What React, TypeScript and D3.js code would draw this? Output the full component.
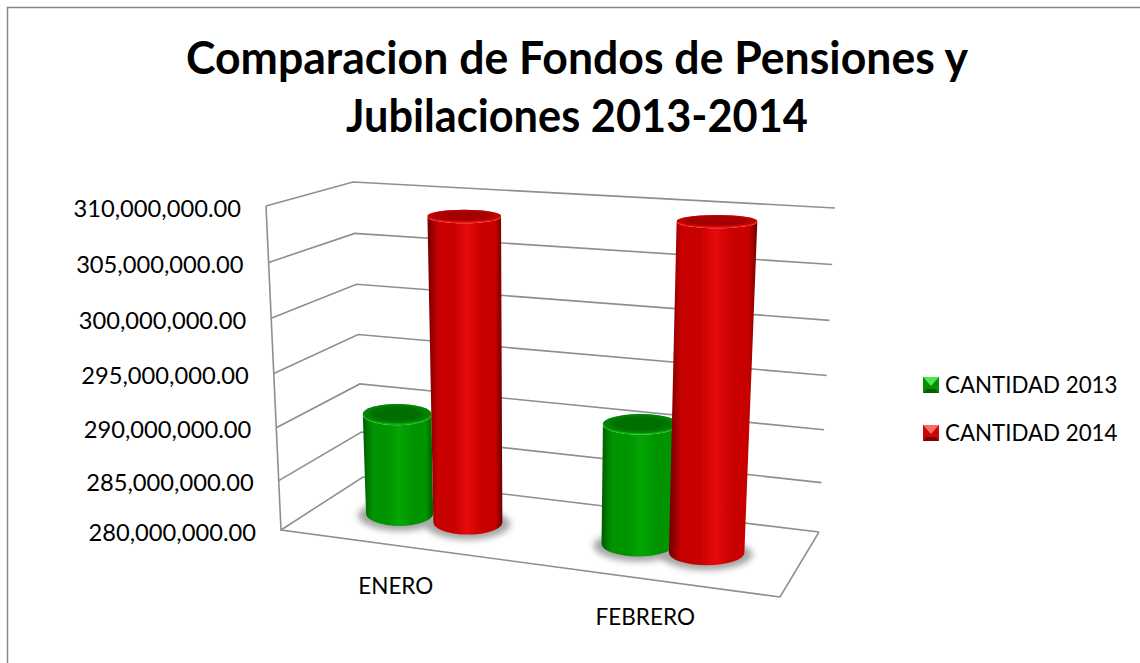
import React from "react";
import * as d3 from "d3";

const categories = ["ENERO", "FEBRERO"];
const seriesNames = ["CANTIDAD 2013", "CANTIDAD 2014"];
const values2013 = [289960000, 291400000];
const values2014 = [308800000, 309700000];
const tickValues = [280000000, 285000000, 290000000, 295000000, 300000000, 305000000, 310000000];
const titleLines = ["Comparacion de Fondos de Pensiones y", "Jubilaciones 2013-2014"];
const titleWidths = [782, 462];

type Pt = [number, number];
const floorFL: Pt = [281, 530], floorFR: Pt = [780, 597], floorBR: Pt = [819, 532], floorBL: Pt = [363, 477];
const topFL: Pt = [266, 206], topFR: Pt = [796, 240], topBR: Pt = [835, 208], topBL: Pt = [353, 182];

const mix = (a: Pt, b: Pt, t: number): Pt => [a[0] + (b[0] - a[0]) * t, a[1] + (b[1] - a[1]) * t];
const bilinear = (fl: Pt, fr: Pt, bl: Pt, br: Pt, u: number, v: number) => mix(mix(fl, fr, u), mix(bl, br, u), v);
const yLinear = d3.scaleLinear().domain([280000000, 310000000]).range([0, 1]);
const yFrac = (val: number) => Math.pow(yLinear(val), 1.05);
const project = (u: number, v: number, val: number): Pt =>
  mix(bilinear(floorFL, floorFR, floorBL, floorBR, u, v), bilinear(topFL, topFR, topBL, topBR, u, v), yFrac(val));

const x0 = d3.scaleBand<string>().domain(categories).range([-0.016, 0.984]);
const x1 = d3.scaleBand<string>().domain(seriesNames).range([0, 0.5]).paddingInner(0).paddingOuter(0.748);
const radiusScale = d3.scaleLinear().domain([0, 1]).range([32.5, 39]);
const ryScale = d3.scaleLinear().domain([0, 1]).range([12.5, 6.5]);

const palettes = [
  { id: "g", edge: "#005c00", mid: "#009400", bright: "#03a603", cap: "#006f00", rim: "#0db00d", capOuter: "#048a04", light: "#50e650", dark: "#045f04", base: "#078f07" },
  { id: "r", edge: "#700000", mid: "#c80000", bright: "#e80a0a", cap: "#a30000", rim: "#ee1515", capOuter: "#c40404", light: "#ff6a6a", dark: "#7d0000", base: "#c80808" },
];
const seriesValues = [values2013, values2014];
const FONT = "Lato, Carlito, sans-serif";
const fmt = d3.format(",.2f");

function Cylinder({ cat, si }: { cat: number; si: number }) {
  const val = seriesValues[si][cat];
  const u = x0(categories[cat])! + x1(seriesNames[si])! + x1.bandwidth() / 2;
  const [bx, by] = project(u, 0.5, 280000000);
  const [tx, ty] = project(u, 0.5, val);
  const f = yFrac(val);
  const rb = radiusScale(u), rt = rb * (1 + 0.07 * f);
  const ryb = ryScale(0), ryt = ryScale(f);
  const p = palettes[si];
  const body = `M${tx - rt},${ty} L${bx - rb},${by} A${rb},${ryb} 0 0 0 ${bx + rb},${by} L${tx + rt},${ty} A${rt},${ryt} 0 0 1 ${tx - rt},${ty} Z`;
  return (
    <g>
      <path d={body} fill={`url(#body-${p.id})`} />
      <ellipse cx={tx} cy={ty} rx={rt} ry={ryt} fill={p.rim} />
      <ellipse cx={tx} cy={ty - 0.8} rx={rt} ry={ryt - 0.8} fill={`url(#cap-${p.id})`} />
    </g>
  );
}

function Shadow({ cat, si }: { cat: number; si: number }) {
  const u = x0(categories[cat])! + x1(seriesNames[si])! + x1.bandwidth() / 2;
  const [bx, by] = project(u, 0.5, 280000000);
  return <ellipse cx={bx} cy={by + 2} rx={radiusScale(u) + 8} ry={ryScale(0) + 3} fill="#a6a6a6" filter="url(#blur)" />;
}

export default function App() {
  const grid = tickValues.map((t) => ({ a: project(0, 0, t), b: project(0, 1, t), c: project(1, 1, t) }));
  return (
    <svg width={1140} height={663} style={{ position: "absolute", left: 0, top: 0, background: "#fff" }}>
      <defs>
        <filter id="blur" x="-30%" y="-60%" width="160%" height="220%"><feGaussianBlur stdDeviation="3.2" /></filter>
        {palettes.map((p) => (
          <React.Fragment key={p.id}>
            <linearGradient id={`body-${p.id}`} x1="0" x2="1" y1="0" y2="0">
              <stop offset="0" stopColor={p.edge} />
              <stop offset="0.14" stopColor={p.mid} />
              <stop offset="0.35" stopColor={p.mid} />
              <stop offset="0.52" stopColor={p.bright} />
              <stop offset="0.72" stopColor={p.mid} />
              <stop offset="0.9" stopColor={p.mid} />
              <stop offset="1" stopColor={p.edge} />
            </linearGradient>
            <radialGradient id={`cap-${p.id}`} cx="0.5" cy="0.5" r="0.5">
              <stop offset="0" stopColor={p.cap} />
              <stop offset="0.65" stopColor={p.cap} />
              <stop offset="1" stopColor={p.capOuter} />
            </radialGradient>
          </React.Fragment>
        ))}
      </defs>

      <path d="M1140,7.5 H7.5 V663" fill="none" stroke="#868686" strokeWidth={1.5} />

      {titleLines.map((t, i) => (
        <text key={t} x={577} y={74 + i * 58} textAnchor="middle" fontFamily={FONT} fontWeight={700} fontSize={45} textLength={titleWidths[i]} lengthAdjust="spacingAndGlyphs" fill="#000">{t}</text>
      ))}

      <g fill="none" stroke="#8f8f8f" strokeWidth={1.6}>
        {grid.map((g, i) => (
          <polyline key={i} points={[g.a, g.b, g.c].map((q) => q.join(",")).join(" ")} />
        ))}
        <polyline points={[topFL, floorFL, floorFR, floorBR].map((q) => q.join(",")).join(" ")} />
      </g>

      {tickValues.map((t) => {
        const [x, y] = project(0, 0, t);
        return (
          <text key={t} x={x - 25} y={y + 10.5} textAnchor="end" fontFamily={FONT} fontSize={23.7} fill="#000">{fmt(t)}</text>
        );
      })}

      {categories.map((c, i) => {
        const u = x0(c)! + x0.bandwidth() / 2;
        const p = mix(floorFL, floorFR, u);
        return (
          <text key={c} x={p[0] - 2} y={p[1] + 48 - i * 2} textAnchor="middle" fontFamily={FONT} fontSize={22.5} fill="#000">{c}</text>
        );
      })}

      {categories.map((_, c) => (
        <g key={c}>
          <Shadow cat={c} si={0} />
          <Shadow cat={c} si={1} />
          <Cylinder cat={c} si={0} />
          <Cylinder cat={c} si={1} />
        </g>
      ))}

      {seriesNames.map((s, i) => {
        const p = palettes[i];
        const x = 923, y = 377 + i * 48, w = 16, b = 4;
        return (
          <g key={s}>
            <rect x={x} y={y} width={w} height={w} fill={p.base} />
            <polygon points={`${x},${y} ${x + w},${y} ${x + w / 2},${y + w / 2 + 1}`} fill={p.light} />
            <polygon points={`${x},${y + w} ${x + w},${y + w} ${x + w - b},${y + w - b} ${x + b},${y + w - b}`} fill={p.dark} />
            <text x={945} y={y + 16} fontFamily={FONT} fontSize={22.3} fill="#000">{s}</text>
          </g>
        );
      })}
    </svg>
  );
}
